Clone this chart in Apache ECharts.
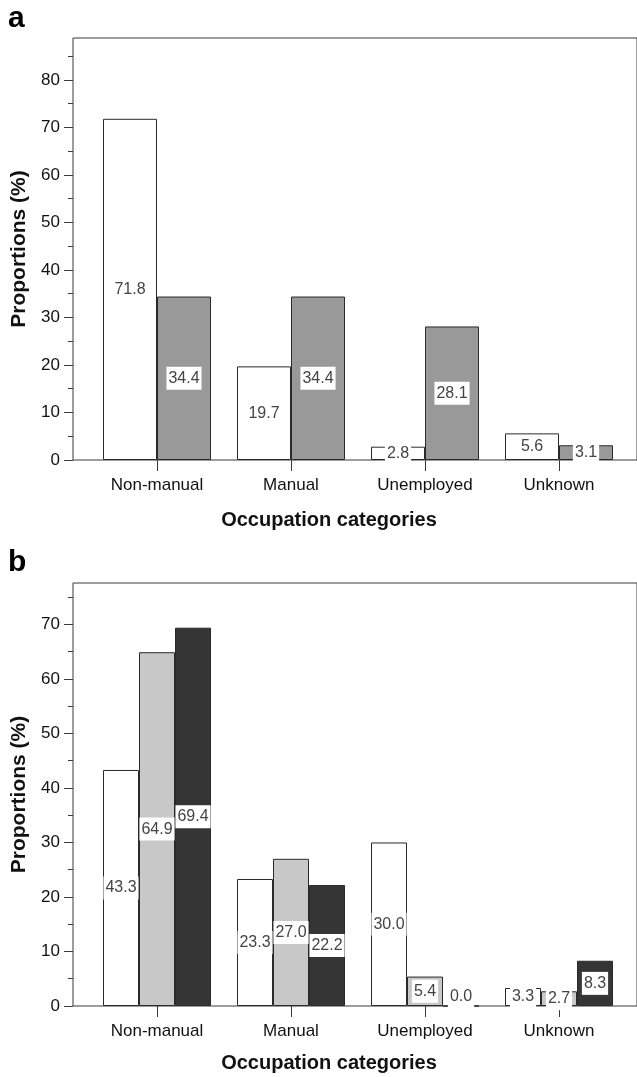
<!DOCTYPE html>
<html>
<head>
<meta charset="utf-8">
<script src="https://cdn.jsdelivr.net/npm/echarts@6/dist/echarts.min.js"></script>
<style>
html,body{margin:0;padding:0;background:#fff;}
#chart{width:637px;height:1077px;}
</style>
</head>
<body>
<div id="chart"></div>
<script>
const categories = ['Non-manual', 'Manual', 'Unemployed', 'Unknown'];
const panelA_group1 = [71.8, 19.7, 2.8, 5.6];
const panelA_group2 = [34.4, 34.4, 28.1, 3.1];
const panelB_group1 = [43.3, 23.3, 30.0, 3.3];
const panelB_group2 = [64.9, 27.0, 5.4, 2.7];
const panelB_group3 = [69.4, 22.2, 0.0, 8.3];
const majorTicksA = [0, 10, 20, 30, 40, 50, 60, 70, 80];
const minorTicksA = [5, 15, 25, 35, 45, 55, 65, 75, 85];
const majorTicksB = [0, 10, 20, 30, 40, 50, 60, 70];
const minorTicksB = [5, 15, 25, 35, 45, 55, 65, 75];
const yTitle = 'Proportions (%)';
const xTitle = 'Occupation categories';

const FONT = '"Liberation Sans", Arial, sans-serif';
const AXIS_COLOR = '#3a3a3a';
const maxA = 88.8, maxB = 77.6;

function frameGrid(top, bottom) {
  return { left: 73, right: -5, top: top, bottom: bottom, show: true, borderColor: AXIS_COLOR, borderWidth: 1, backgroundColor: 'transparent' };
}
function dataGrid(top, bottom) {
  return { left: 90, right: 11, top: top, bottom: bottom };
}
function catAxis(gi) {
  return {
    gridIndex: gi, type: 'category', data: categories,
    axisLine: { show: false },
    axisTick: { show: true, alignWithLabel: true, length: 11, lineStyle: { color: AXIS_COLOR, width: 1 } },
    axisLabel: { margin: 17, fontSize: 17, color: '#111', fontFamily: FONT },
    splitLine: { show: false }
  };
}
function majorY(gi, max, ticks) {
  return {
    gridIndex: gi, type: 'value', position: 'left', min: 0, max: max,
    axisLine: { show: false },
    axisTick: { show: true, length: 9, customValues: ticks, lineStyle: { color: AXIS_COLOR, width: 1 } },
    axisLabel: { show: true, customValues: ticks, margin: 13, fontSize: 17, color: '#111', fontFamily: FONT },
    splitLine: { show: false },
    name: yTitle, nameLocation: 'middle', nameRotate: 90, nameGap: 43,
    nameTextStyle: { fontSize: 21, fontWeight: 'bold', color: '#111', fontFamily: FONT }
  };
}
function minorY(gi, max, ticks) {
  return {
    gridIndex: gi, type: 'value', position: 'left', min: 0, max: max,
    axisLine: { show: false },
    axisTick: { show: true, length: 5, customValues: ticks, lineStyle: { color: AXIS_COLOR, width: 1 } },
    axisLabel: { show: false },
    splitLine: { show: false }
  };
}
function hiddenY(gi, max) {
  return { gridIndex: gi, type: 'value', position: 'left', min: 0, max: max, show: false, splitLine: { show: false } };
}
function barSeries(xi, yi, values, fill, width) {
  return {
    type: 'bar', xAxisIndex: xi, yAxisIndex: yi,
    data: values.map(v => v === 0 ? { value: v, label: { offset: [0, -9] } } : v),
    barWidth: width, barGap: '0%',
    itemStyle: { color: fill, borderColor: '#2a2a2a', borderWidth: 1 },
    label: {
      show: true, position: 'inside',
      formatter: p => Number(p.value).toFixed(1),
      color: '#444', fontSize: 16, fontFamily: FONT,
      backgroundColor: '#fff', padding: [3, 2, 2, 2], lineHeight: 18
    },
    z: 2
  };
}

const chart = echarts.init(document.getElementById('chart'), null, { renderer: 'canvas' });
chart.setOption({
  animation: false,
  backgroundColor: '#fff',
  grid: [frameGrid(38, 617), dataGrid(38, 617), frameGrid(583, 71), dataGrid(583, 71)],
  xAxis: [
    { gridIndex: 0, type: 'value', show: false },
    catAxis(1),
    { gridIndex: 2, type: 'value', show: false },
    catAxis(3)
  ],
  yAxis: [
    majorY(0, maxA, majorTicksA),
    minorY(0, maxA, minorTicksA),
    hiddenY(1, maxA),
    majorY(2, maxB, majorTicksB),
    minorY(2, maxB, minorTicksB),
    hiddenY(3, maxB)
  ],
  series: [
    barSeries(1, 2, panelA_group1, '#ffffff', 54),
    barSeries(1, 2, panelA_group2, '#999999', 54),
    barSeries(3, 5, panelB_group1, '#ffffff', 36),
    barSeries(3, 5, panelB_group2, '#c8c8c8', 36),
    barSeries(3, 5, panelB_group3, '#353535', 36)
  ],
  graphic: [
    { type: 'text', x: 8, y: 19, style: { text: 'a', font: 'bold 30px ' + FONT, fill: '#000', textVerticalAlign: 'middle' } },
    { type: 'text', x: 8, y: 563, style: { text: 'b', font: 'bold 30px ' + FONT, fill: '#000', textVerticalAlign: 'middle' } },
    { type: 'text', x: 329, y: 520, style: { text: xTitle, font: 'bold 20px ' + FONT, fill: '#111', textAlign: 'center', textVerticalAlign: 'middle' } },
    { type: 'text', x: 329, y: 1063, style: { text: xTitle, font: 'bold 20px ' + FONT, fill: '#111', textAlign: 'center', textVerticalAlign: 'middle' } }
  ]
});
</script>
</body>
</html>
